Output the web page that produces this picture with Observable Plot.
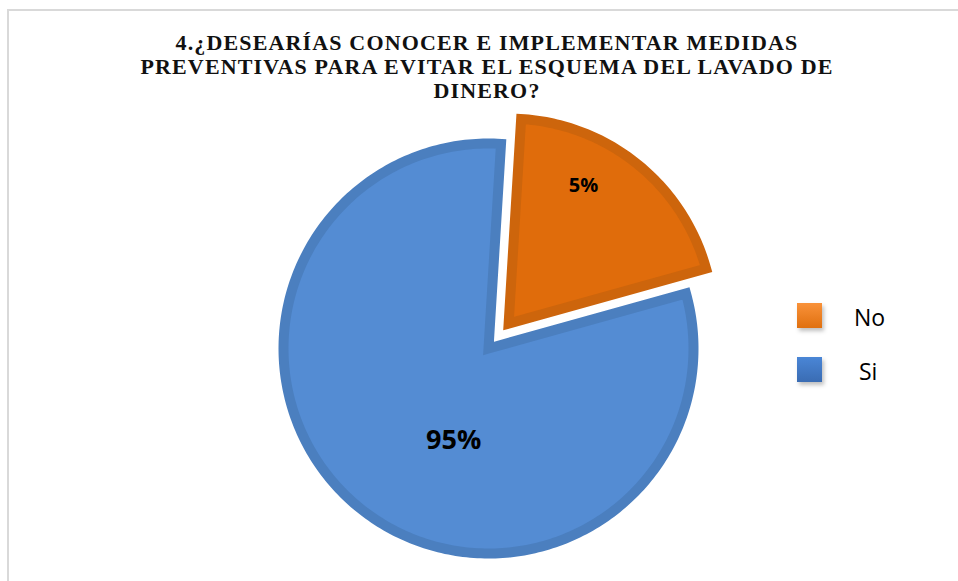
<!DOCTYPE html>
<html><head><meta charset="utf-8">
<script src="https://cdn.jsdelivr.net/npm/d3@7"></script>
<script src="https://cdn.jsdelivr.net/npm/@observablehq/plot@0.6"></script>
<style>
body{margin:0;background:#fff}
#wrap{position:relative;width:958px;height:581px;overflow:hidden;background:#fff}
#frame{position:absolute;left:7px;top:9px;width:1000px;height:700px;border-left:2px solid #d9d9d9;border-top:2px solid #d9d9d9}
#chart{position:absolute;left:0;top:0}
#title{position:absolute;left:87px;width:800px;top:31px;text-align:center;font-family:"Liberation Serif",serif;font-weight:bold;font-size:22px;line-height:24px;letter-spacing:1.15px;color:#111}
.sw{position:absolute;left:797px;width:25px;height:25px;box-shadow:2px 3px 4px rgba(0,0,0,0.25)}
.lt{position:absolute;font-family:"Open Sans",sans-serif;font-size:23px;line-height:23px;color:#000}
</style></head>
<body>
<div id="wrap">
  <div id="frame"></div>
  <div id="chart"></div>
  <div id="title">4.¿DESEARÍAS CONOCER E IMPLEMENTAR MEDIDAS<br>PREVENTIVAS PARA EVITAR EL ESQUEMA DEL LAVADO DE<br>DINERO?</div>
  <div id="legend"></div>
</div>
<script>
// ---- data ----
const categories = ["No", "Si"];
const shares = [0.197, 0.803];      // slice sizes as drawn in the picture
const labels = ["5%", "95%"];       // data labels as printed

// ---- styling / layout ----
const fills = {No: "#E06C0B", Si: "#548CD3"};
const strokes = {No: "#CD650C", Si: "#4B7FBF"};
const explode = {No: 32, Si: 0};
const labelPlace = {No: {f: 0.352, r: 0.766, size: 20}, Si: {f: 0.437, r: 0.48, size: 27}};
const W = 958, H = 581, R = 205, cx = 488, cy = 348;
const startAngle = 3.5 * Math.PI / 180;

const wedgePts = [];
const labelPts = [];
let cum = 0;
categories.forEach((c, i) => {
  const s = startAngle + cum * 2 * Math.PI;
  const e = s + shares[i] * 2 * Math.PI;
  cum += shares[i];
  const mid = (s + e) / 2;
  const off = explode[c] / R;
  const ox = off * Math.sin(mid), oy = off * Math.cos(mid);
  wedgePts.push({cat: c, x: ox, y: oy});
  const n = Math.max(8, Math.ceil((e - s) / (2 * Math.PI) * 360));
  for (let k = 0; k <= n; k++) {
    const a = s + (e - s) * k / n;
    wedgePts.push({cat: c, x: ox + Math.sin(a), y: oy + Math.cos(a)});
  }
  const lp = labelPlace[c];
  const la = s + lp.f * (e - s);
  labelPts.push({cat: c, text: labels[i], size: lp.size, x: ox + lp.r * Math.sin(la), y: oy + lp.r * Math.cos(la)});
});

const marks = [];
categories.forEach(c => {
  marks.push(Plot.line(wedgePts.filter(d => d.cat === c), {
    x: "x", y: "y", curve: "linear-closed",
    fill: fills[c], stroke: strokes[c], strokeWidth: 10,
    strokeLinejoin: "miter", strokeMiterlimit: 10
  }));
});
labelPts.forEach(d => {
  marks.push(Plot.text([d], {x: "x", y: "y", text: "text", fontSize: d.size,
    fontWeight: "bold", fontFamily: "Open Sans", fill: "#000"}));
});

const svg = Plot.plot({
  width: W, height: H, margin: 0,
  x: {domain: [-cx / R, (W - cx) / R], axis: null},
  y: {domain: [-(H - cy) / R, cy / R], axis: null},
  style: {background: "transparent"},
  marks
});
document.getElementById("chart").appendChild(svg);

// legend
const leg = document.getElementById("legend");
const legendGrad = {No: "linear-gradient(#F9923A,#E0700F)", Si: "linear-gradient(#4A86D6,#3A6CB3)"};
const legendTop = {No: 303, Si: 357};
categories.forEach(c => {
  const sw = document.createElement("div");
  sw.className = "sw"; sw.style.top = legendTop[c] + "px"; sw.style.background = legendGrad[c];
  leg.appendChild(sw);
  const t = document.createElement("div");
  t.className = "lt"; t.textContent = c;
  t.style.left = (c === "No" ? 854 : 859) + "px";
  t.style.top = (legendTop[c] + 3) + "px";
  leg.appendChild(t);
});
</script>
</body></html>
